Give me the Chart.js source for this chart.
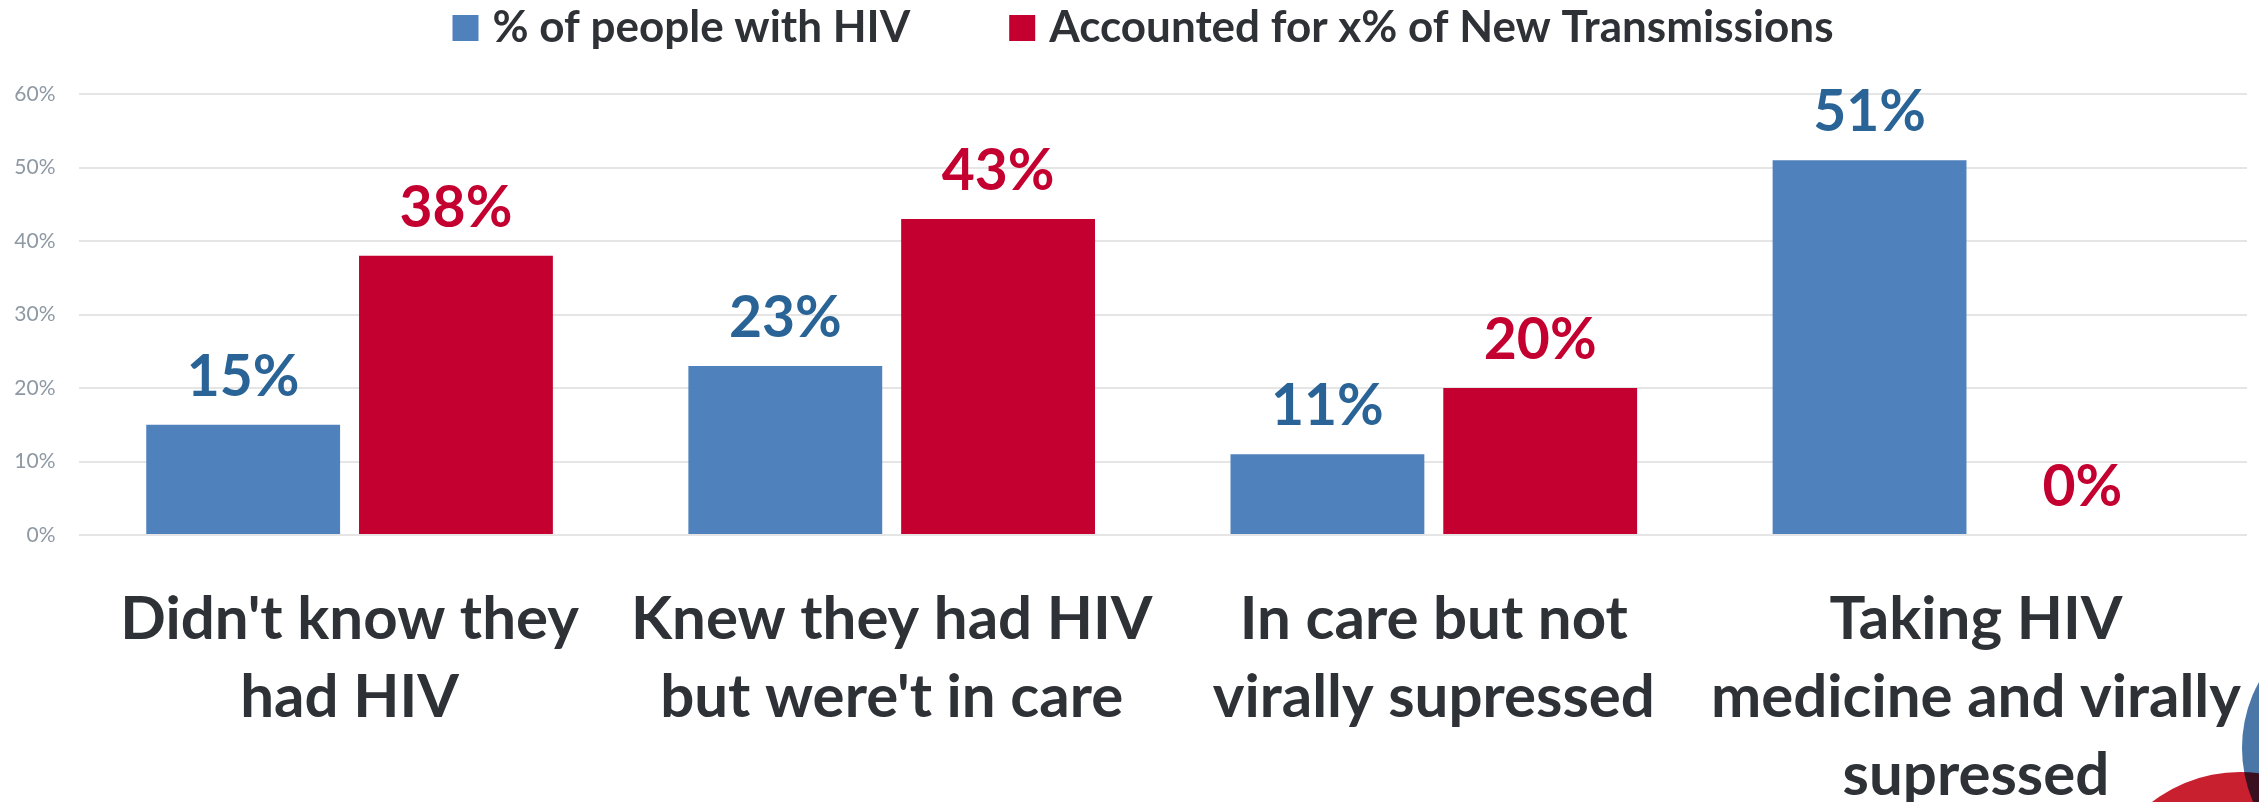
<!DOCTYPE html>
<html>
<head>
<meta charset="utf-8">
<script src="https://cdn.jsdelivr.net/npm/chart.js@4.4.1/dist/chart.umd.min.js"></script>
<style>
  html, body { margin: 0; padding: 0; background: #fff; }
  canvas { display: block; }
</style>
</head>
<body>
<canvas id="hiv-chart" width="2259" height="802"></canvas>
<script>
// Chart data
const categories = [
    ["Didn't know they", 'had HIV'],
    ['Knew they had HIV', "but were't in care"],
    ['In care but not', 'virally supressed'],
    ['Taking HIV', 'medicine and virally', 'supressed']
];
const seriesNames = ['% of people with HIV', 'Accounted for x% of New Transmissions'];
const peopleWithHiv = [15, 23, 11, 51];
const newTransmissions = [38, 43, 20, 0];
const yTicks = [0, 10, 20, 30, 40, 50, 60];

const barColors = ['#4F81BD', '#C3002F'];
const valueColors = ['#2A6496', '#C3002F'];
const textColor = '#2E3236';

// Value labels above each bar
const valueLabels = {
    id: 'valueLabels',
    afterDatasetsDraw(chart) {
        const ctx = chart.ctx;
        ctx.save();
        ctx.font = 'bold 57px Lato';
        ctx.textAlign = 'center';
        ctx.textBaseline = 'alphabetic';
        chart.data.datasets.forEach((ds, i) => {
            const meta = chart.getDatasetMeta(i);
            ctx.fillStyle = valueColors[i];
            meta.data.forEach((bar, j) => {
                ctx.fillText(ds.data[j] + '%', bar.x, bar.y - 29);
            });
        });
        ctx.restore();
    }
};

// Legend drawn at the top, centred over the plot
const topLegend = {
    id: 'topLegend',
    afterDraw(chart) {
        const ctx = chart.ctx;
        const box = 26, gapText = 14, gapItem = 99;
        ctx.save();
        ctx.font = 'bold 44px Lato';
        ctx.textBaseline = 'alphabetic';
        const widths = chart.data.datasets.map(ds => ctx.measureText(ds.label).width);
        const total = widths.reduce((a, w) => a + box + gapText + w, 0) + gapItem * (widths.length - 1);
        let x = 1143 - total / 2;
        chart.data.datasets.forEach((ds, i) => {
            ctx.fillStyle = ds.backgroundColor;
            ctx.fillRect(x, 15, box, box);
            ctx.fillStyle = textColor;
            ctx.fillText(ds.label, x + box + gapText, 42);
            x += box + gapText + widths[i] + gapItem;
        });
        ctx.restore();
    }
};

// Logo circles in the bottom right corner
const cornerLogo = {
    id: 'cornerLogo',
    afterDraw(chart) {
        const ctx = chart.ctx;
        ctx.save();
        ctx.fillStyle = '#4A76A8';
        ctx.beginPath();
        ctx.arc(2379, 748, 137, 0, Math.PI * 2);
        ctx.fill();
        ctx.globalCompositeOperation = 'multiply';
        ctx.fillStyle = '#C8202F';
        ctx.beginPath();
        ctx.arc(2240, 916, 144, 0, Math.PI * 2);
        ctx.fill();
        ctx.restore();
    }
};

const chart = new Chart(document.getElementById('hiv-chart'), {
    type: 'bar',
    data: {
        labels: categories,
        datasets: [
            { label: seriesNames[0], data: peopleWithHiv, backgroundColor: barColors[0] },
            { label: seriesNames[1], data: newTransmissions, backgroundColor: barColors[1] }
        ]
    },
    options: {
        responsive: false,
        animation: false,
        layout: { padding: { top: 94, right: 12, left: 0, bottom: 0 } },
        datasets: {
            bar: { categoryPercentage: 0.785, barPercentage: 0.911 }
        },
        plugins: {
            legend: { display: false },
            tooltip: { enabled: false }
        },
        scales: {
            x: {
                grid: { display: false },
                border: { display: false },
                ticks: {
                    color: textColor,
                    font: { family: 'Lato', weight: 'bold', size: 60, lineHeight: 1.3 },
                    padding: 38,
                    maxRotation: 0,
                    autoSkip: false
                },
                afterFit(scale) {
                    scale.height = 267;
                    // long labels should not shrink the plot area
                    scale.paddingLeft = 0;
                    scale.paddingRight = 0;
                }
            },
            y: {
                min: 0,
                max: 60,
                afterBuildTicks(scale) { scale.ticks = yTicks.map(v => ({ value: v })); },
                grid: { color: '#E5E5E5', lineWidth: 2, drawTicks: false },
                border: { display: false },
                ticks: {
                    color: '#8E99A4',
                    font: { family: 'Lato', size: 21 },
                    padding: 23,
                    callback: v => v + '%'
                },
                afterFit(scale) { scale.width = 78.5; }
            }
        }
    },
    plugins: [valueLabels, topLegend, cornerLogo]
});
</script>
</body>
</html>
